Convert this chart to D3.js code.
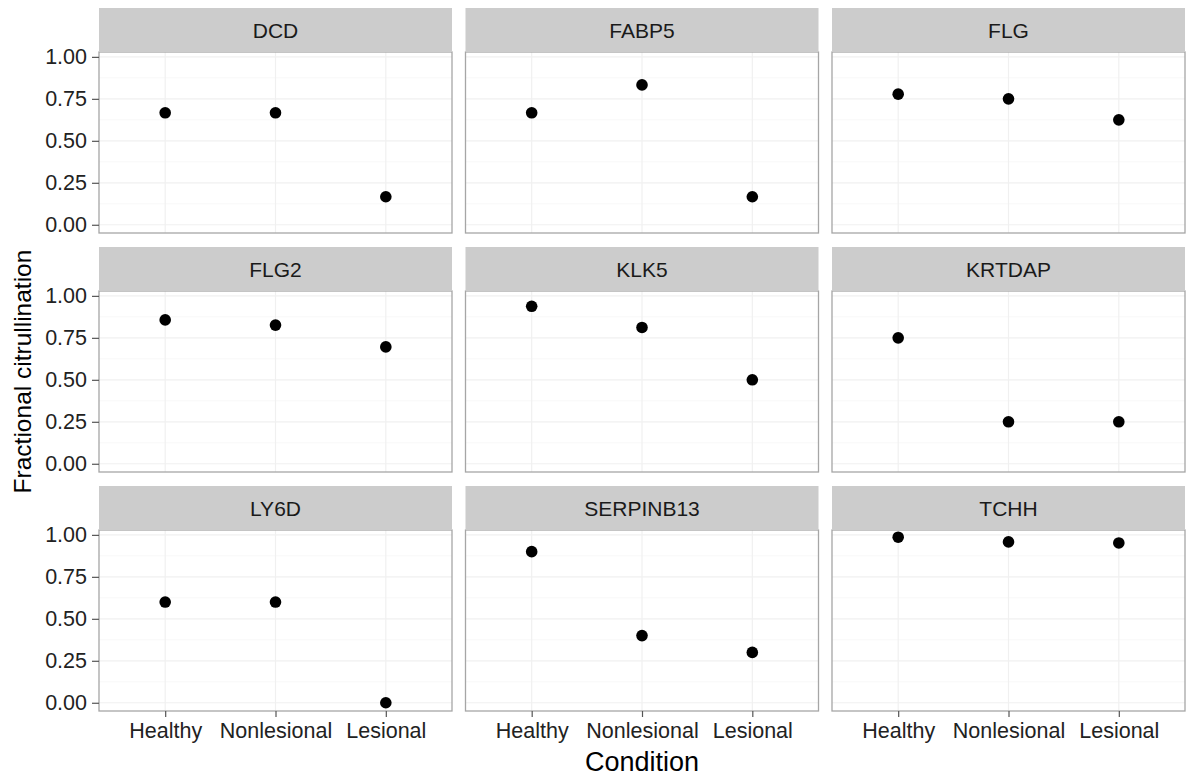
<!DOCTYPE html>
<html>
<head>
<meta charset="utf-8">
<script src="https://cdn.jsdelivr.net/npm/d3@7"></script>
<style>
  html, body { margin: 0; padding: 0; background: #fff; }
  svg { display: block; font-family: "Liberation Sans", Arial, sans-serif; }
</style>
</head>
<body>
<svg id="chart" width="1189" height="777"></svg>
<script>
// Fractional citrullination per gene, faceted by gene
const genes = ["DCD", "FABP5", "FLG", "FLG2", "KLK5", "KRTDAP", "LY6D", "SERPINB13", "TCHH"];
const conditions = ["Healthy", "Nonlesional", "Lesional"];
const healthy     = [0.667, 0.667, 0.778, 0.857, 0.938, 0.75, 0.6, 0.9, 0.986];
const nonlesional = [0.667, 0.833, 0.75,  0.826, 0.812, 0.25, 0.6, 0.4, 0.958];
const lesional    = [0.167, 0.167, 0.625, 0.696, 0.5,   0.25, 0.0, 0.3, 0.952];
const yTicks = [0, 0.25, 0.5, 0.75, 1];
const yMinor = [0.125, 0.375, 0.625, 0.875];
const xTitle = "Condition";
const yTitle = "Fractional citrullination";

const seriesByCondition = [healthy, nonlesional, lesional];

// facet grid geometry
const nCols = 3;
const panelLeft = 99, panelW = 353, colGap = 13.5;
const stripTop = 8, stripH = 44, panelH = 181, rowGap = 14;

const svg = d3.select("#chart");

const x = d3.scalePoint().domain(conditions).padding(0.6);
const yDomain = [-0.049, 1.029];

genes.forEach((gene, gi) => {
  const col = gi % nCols, row = Math.floor(gi / nCols);
  const nRows = Math.ceil(genes.length / nCols);
  const x0 = panelLeft + col * (panelW + colGap);
  const sTop = stripTop + row * (stripH + panelH + rowGap);
  const pTop = sTop + stripH;
  const pBottom = pTop + panelH;

  const xs = x.copy().range([x0, x0 + panelW]);
  const ys = d3.scaleLinear().domain(yDomain).range([pBottom, pTop]);

  const g = svg.append("g").attr("class", "facet");

  // panel background
  g.append("rect").attr("x", x0).attr("y", pTop).attr("width", panelW).attr("height", panelH)
    .attr("fill", "#fff");

  // minor grid
  g.selectAll("line.minor").data(yMinor).join("line").attr("class", "minor")
    .attr("x1", x0).attr("x2", x0 + panelW)
    .attr("y1", d => ys(d)).attr("y2", d => ys(d))
    .attr("stroke", "#f8f8f8").attr("stroke-width", 1);

  // major grid
  g.selectAll("line.majy").data(yTicks).join("line").attr("class", "majy")
    .attr("x1", x0).attr("x2", x0 + panelW)
    .attr("y1", d => ys(d)).attr("y2", d => ys(d))
    .attr("stroke", "#f0f0f0").attr("stroke-width", 1.2);
  g.selectAll("line.majx").data(conditions).join("line").attr("class", "majx")
    .attr("x1", d => xs(d)).attr("x2", d => xs(d))
    .attr("y1", pTop).attr("y2", pBottom)
    .attr("stroke", "#f0f0f0").attr("stroke-width", 1.2);

  // points
  g.selectAll("circle").data(conditions.map((c, ci) => ({c, v: seriesByCondition[ci][gi]})))
    .join("circle")
    .attr("cx", d => xs(d.c)).attr("cy", d => ys(d.v)).attr("r", 5.8)
    .attr("fill", "#000");

  // panel border
  g.append("rect").attr("x", x0).attr("y", pTop).attr("width", panelW).attr("height", panelH)
    .attr("fill", "none").attr("stroke", "#a6a6a6").attr("stroke-width", 1.3);

  // strip
  g.append("rect").attr("x", x0).attr("y", sTop).attr("width", panelW).attr("height", stripH)
    .attr("fill", "#cccccc");
  g.append("text").attr("x", x0 + panelW / 2).attr("y", sTop + stripH / 2 + 7.5)
    .attr("text-anchor", "middle").attr("font-size", 21).attr("fill", "#1a1a1a")
    .text(gene);

  // y axis on first column
  if (col === 0) {
    const ax = g.append("g").attr("transform", `translate(${x0},0)`)
      .call(d3.axisLeft(ys).tickValues(yTicks).tickFormat(d3.format(".2f")).tickSize(7).tickPadding(5));
    ax.select(".domain").remove();
    ax.selectAll(".tick line").attr("stroke", "#555").attr("stroke-width", 1.2);
    ax.selectAll(".tick text").attr("font-size", 21.5).attr("fill", "#222")
      .attr("font-family", "Liberation Sans, Arial, sans-serif");
  }
  // x axis on bottom row
  if (row === nRows - 1) {
    const ax = g.append("g").attr("transform", `translate(0,${pBottom})`)
      .call(d3.axisBottom(xs).tickSize(6).tickPadding(6));
    ax.select(".domain").remove();
    ax.selectAll(".tick line").attr("stroke", "#555").attr("stroke-width", 1.2);
    ax.selectAll(".tick text").attr("font-size", 21.5).attr("fill", "#222")
      .attr("font-family", "Liberation Sans, Arial, sans-serif");
  }
});

// axis titles
const plotRight = panelLeft + nCols * panelW + (nCols - 1) * colGap;
svg.append("text").attr("x", (panelLeft + plotRight) / 2).attr("y", 771)
  .attr("text-anchor", "middle").attr("font-size", 27).attr("fill", "#000")
  .text(xTitle);

const gridBottom = stripTop + 3 * (stripH + panelH) + 2 * rowGap;
svg.append("text")
  .attr("transform", `translate(31,${(stripTop + gridBottom) / 2 + 12}) rotate(-90)`)
  .attr("text-anchor", "middle").attr("font-size", 24.5).attr("fill", "#000")
  .text(yTitle);
</script>
</body>
</html>
